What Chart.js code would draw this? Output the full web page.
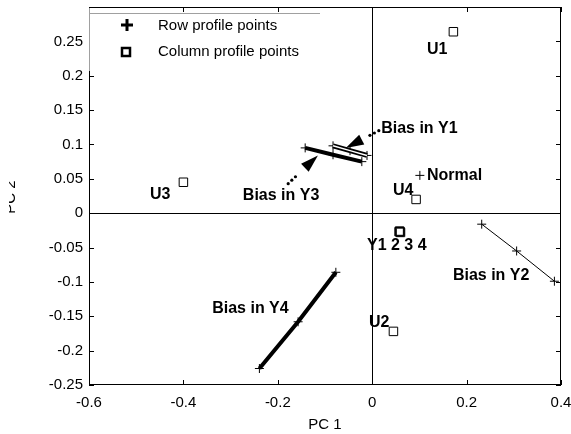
<!DOCTYPE html>
<html>
<head>
<meta charset="utf-8">
<script src="https://cdn.jsdelivr.net/npm/chart.js@4.4.0/dist/chart.umd.min.js"></script>
<style>
  body { margin: 0; background: #fff; }
</style>
</head>
<body>
<canvas id="biplot" width="571" height="434"></canvas>
<script>
// PC1 / PC2 coordinates
const biasY1 = [[-0.083, 0.098], [-0.047, 0.091], [-0.011, 0.084]];
const biasY2 = [[0.232, -0.016], [0.306, -0.055], [0.386, -0.099]];
const biasY3 = [[-0.142, 0.095], [-0.083, 0.085], [-0.022, 0.075]];
const biasY4 = [[-0.239, -0.226], [-0.157, -0.158], [-0.077, -0.086]];
const normalPoint = [[0.101, 0.055]];

// column profile points (U1..U4, Y1..Y4 sit almost on top of each other)
const columnNames = ['U1', 'U2', 'U3', 'U4', 'Y1', 'Y2', 'Y3', 'Y4'];
const columnX = [0.172, 0.045, -0.400, 0.093, 0.057, 0.058, 0.059, 0.060];
const columnY = [0.264, -0.172, 0.045, 0.020, -0.027, -0.026, -0.027, -0.028];

const xTicks = [-0.6, -0.4, -0.2, 0, 0.2, 0.4];
const yTicks = [-0.25, -0.2, -0.15, -0.1, -0.05, 0, 0.05, 0.1, 0.15, 0.2, 0.25];

// text notes on the plot (anchor = left edge, in data units)
const noteText = ['Bias in Y1', 'Bias in Y2', 'Bias in Y3', 'Bias in Y4', 'Normal', 'U1', 'U2', 'U3', 'U4', 'Y1 2 3 4'];
const noteX = [0.019, 0.171, -0.274, -0.339, 0.116, 0.116, -0.007, -0.471, 0.044, -0.011];
const noteY = [0.123, -0.091, 0.025, -0.139, 0.055, 0.238, -0.159, 0.027, 0.033, -0.047];

// dotted arrows from the labels to the Y1 / Y3 lines
const arrowFrom = [[0.014, 0.120], [-0.178, 0.043]];
const arrowTo = [[-0.056, 0.095], [-0.115, 0.084]];

const FONT = "'Liberation Sans', Arial, sans-serif";
const toPts = arr => arr.map(p => ({ x: p[0], y: p[1] }));

const rowStyle = {
    borderColor: '#000',
    pointStyle: 'cross',
    pointRadius: 4.5,
    pointBorderColor: '#000',
    pointBorderWidth: 1,
    showLine: true
};

// ticks inside the frame, box, notes, arrows, legend
const decorations = {
    id: 'decorations',
    afterDraw(chart) {
        const ctx = chart.ctx;
        const a = chart.chartArea;
        const xs = chart.scales.x, ys = chart.scales.y;
        ctx.save();
        ctx.strokeStyle = '#000';
        ctx.lineWidth = 1;
        ctx.strokeRect(a.left + 0.5, a.top + 0.5, a.right - a.left - 1, a.bottom - a.top - 1);
        ctx.beginPath();
        xTicks.forEach(v => {
            const px = Math.round(xs.getPixelForValue(v)) + 0.5;
            ctx.moveTo(px, a.bottom); ctx.lineTo(px, a.bottom - 5);
            ctx.moveTo(px, a.top); ctx.lineTo(px, a.top + 5);
        });
        yTicks.forEach(v => {
            const py = Math.round(ys.getPixelForValue(v)) + 0.5;
            ctx.moveTo(a.left, py); ctx.lineTo(a.left + 5, py);
            ctx.moveTo(a.right, py); ctx.lineTo(a.right - 5, py);
        });
        ctx.stroke();

        // notes
        ctx.fillStyle = '#000';
        ctx.font = 'bold 16px ' + FONT;
        ctx.textAlign = 'left';
        ctx.textBaseline = 'middle';
        noteText.forEach((t, i) => {
            ctx.fillText(t, xs.getPixelForValue(noteX[i]), ys.getPixelForValue(noteY[i]));
        });

        // arrows: three dots then a filled head
        arrowFrom.forEach((f, i) => {
            const x0 = xs.getPixelForValue(f[0]), y0 = ys.getPixelForValue(f[1]);
            const x1 = xs.getPixelForValue(arrowTo[i][0]), y1 = ys.getPixelForValue(arrowTo[i][1]);
            const len = Math.hypot(x1 - x0, y1 - y0);
            const ux = (x1 - x0) / len, uy = (y1 - y0) / len;
            for (let k = 0; k < 3; k++) {
                ctx.beginPath();
                ctx.arc(x0 + ux * k * 5, y0 + uy * k * 5, 1.6, 0, Math.PI * 2);
                ctx.fill();
            }
            const headLen = 18, headW = 5.5;
            const bx = x1 - ux * headLen, by = y1 - uy * headLen;
            ctx.beginPath();
            ctx.moveTo(x1, y1);
            ctx.lineTo(bx - uy * headW, by + ux * headW);
            ctx.lineTo(bx + uy * headW, by - ux * headW);
            ctx.closePath();
            ctx.fill();
        });

        // legend box over the top-left corner
        ctx.fillStyle = '#fff';
        ctx.fillRect(a.left, a.top + 6, 231, 58);
        ctx.strokeStyle = '#a0a0a0';
        ctx.beginPath();
        ctx.moveTo(a.left + 1, a.top + 6.5); ctx.lineTo(a.left + 231, a.top + 6.5);
        ctx.moveTo(a.left + 0.5, a.top + 1); ctx.lineTo(a.left + 0.5, a.top + 64);
        ctx.stroke();
        ctx.strokeStyle = '#000';
        ctx.lineWidth = 3;
        ctx.beginPath();
        ctx.moveTo(121, 25); ctx.lineTo(133, 25);
        ctx.moveTo(127, 19); ctx.lineTo(127, 31);
        ctx.stroke();
        ctx.lineWidth = 2.5;
        ctx.strokeRect(122, 48, 8, 8);
        ctx.fillStyle = '#000';
        ctx.font = '15px ' + FONT;
        ctx.fillText('Row profile points', 158, 26);
        ctx.fillText('Column profile points', 158, 52);

        // y axis title, mostly cut off at the left edge
        ctx.beginPath();
        ctx.rect(9, 0, 20, chart.height);
        ctx.clip();
        ctx.translate(15, 197);
        ctx.rotate(-Math.PI / 2);
        ctx.textAlign = 'center';
        ctx.textBaseline = 'alphabetic';
        ctx.fillText('PC 2', 0, 0);
        ctx.restore();
    }
};

new Chart(document.getElementById('biplot'), {
    type: 'scatter',
    data: {
        datasets: [
            { ...rowStyle, data: toPts(biasY1), borderColor: '#fff', borderWidth: 1.5, pointRadius: 0, order: -1 },
            { ...rowStyle, data: toPts(biasY1), borderWidth: 5 },
            { ...rowStyle, data: toPts(biasY2), borderWidth: 1 },
            { ...rowStyle, data: toPts(biasY3), borderWidth: 4 },
            { ...rowStyle, data: toPts(biasY4), borderWidth: 4 },
            { ...rowStyle, data: toPts(normalPoint), showLine: false },
            {
                label: 'Column profile points',
                data: columnX.map((x, i) => ({ x: x, y: columnY[i], name: columnNames[i] })),
                pointStyle: 'rect',
                pointRadius: 6,
                pointBackgroundColor: 'rgba(0,0,0,0)',
                pointBorderColor: '#000',
                pointBorderWidth: 1,
                showLine: false
            }
        ]
    },
    options: {
        responsive: false,
        animation: false,
        layout: { padding: { top: 5, right: 10, left: 0, bottom: 0 } },
        plugins: { legend: { display: false }, tooltip: { enabled: false } },
        scales: {
            x: {
                type: 'linear',
                min: -0.6,
                max: 0.4,
                afterBuildTicks: s => { s.ticks = xTicks.map(v => ({ value: v })); },
                afterFit: s => { s.height = 49; s.paddingLeft = 0; s.paddingRight = 0; },
                ticks: {
                    color: '#000',
                    font: { family: FONT, size: 15 },
                    padding: 9,
                    callback: v => String(Number(v.toFixed(2)))
                },
                grid: {
                    drawTicks: false,
                    color: c => (c.tick && c.tick.value === 0 ? '#000' : 'rgba(0,0,0,0)')
                },
                border: { display: false },
                title: {
                    display: true,
                    text: 'PC 1',
                    color: '#000',
                    font: { family: FONT, size: 15 },
                    padding: { top: 0, bottom: 0 }
                }
            },
            y: {
                type: 'linear',
                min: -0.25,
                max: 0.3,
                afterBuildTicks: s => { s.ticks = yTicks.map(v => ({ value: v })); },
                afterFit: s => { s.width = 89; s.paddingTop = 0; s.paddingBottom = 0; },
                ticks: {
                    color: '#000',
                    font: { family: FONT, size: 15 },
                    padding: 6,
                    callback: v => String(Number(v.toFixed(2)))
                },
                grid: {
                    drawTicks: false,
                    color: c => (c.tick && c.tick.value === 0 ? '#000' : 'rgba(0,0,0,0)')
                },
                border: { display: false }
            }
        }
    },
    plugins: [decorations]
});
</script>
</body>
</html>
